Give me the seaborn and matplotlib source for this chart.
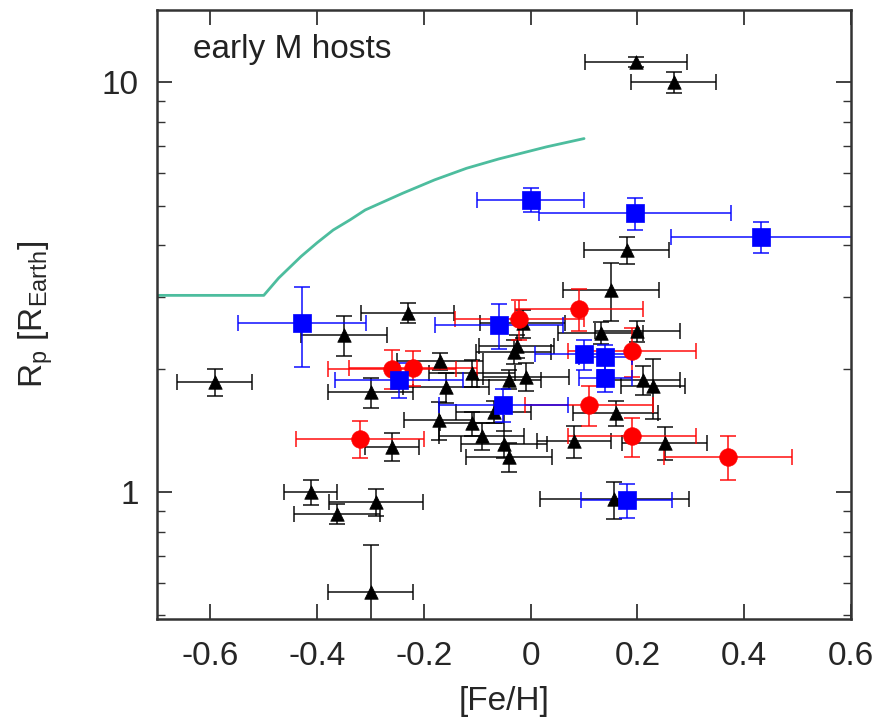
import matplotlib
matplotlib.use("Agg")
import matplotlib.pyplot as plt
import matplotlib.ticker as mticker
import seaborn as sns
import pandas as pd

# Planets orbiting early M dwarfs: metallicity vs. planet radius
tri_feh = [0.197, 0.268, 0.180, 0.150, 0.131, 0.200, 0.210, 0.229, 0.159, 0.081,
           0.251, 0.157, -0.592, -0.412, -0.363, -0.290, -0.300, -0.260, -0.230, -0.350,
           -0.300, -0.170, -0.159, -0.110, -0.172, -0.110, -0.092, -0.069, -0.050, -0.041,
           -0.026, -0.032, -0.009, -0.041, -0.015]
tri_rp = [11.2, 10.0, 3.90, 3.12, 2.45, 2.47, 1.88, 1.81, 1.56, 1.33,
          1.32, 0.96, 1.86, 1.00, 0.885, 0.945, 0.571, 1.29, 2.74, 2.42,
          1.75, 2.09, 1.80, 1.95, 1.50, 1.47, 1.37, 1.57, 1.31, 1.22,
          2.27, 2.20, 1.91, 1.88, 2.58]
tri_feh_err = [0.095, 0.08, 0.08, 0.09, 0.08, 0.08, 0.07, 0.06, 0.08, 0.07,
               0.08, 0.14, 0.07, 0.05, 0.08, 0.088, 0.08, 0.05, 0.087, 0.08,
               0.08, 0.08, 0.08, 0.08, 0.065, 0.06, 0.08, 0.07, 0.08, 0.08,
               0.07, 0.07, 0.08, 0.06, 0.08]
tri_rp_err = [0.3, 0.6, 0.3, 0.5, 0.15, 0.15, 0.15, 0.3, 0.11, 0.12,
              0.12, 0.1, 0.14, 0.07, 0.05, 0.07, 0.17, 0.1, 0.15, 0.27,
              0.15, 0.1, 0.15, 0.15, 0.16, 0.1, 0.1, 0.1, 0.1, 0.1,
              0.15, 0.15, 0.15, 0.1, 0.2]

circ_feh = [-0.320, -0.260, -0.221, -0.021, 0.090, 0.189, 0.109, 0.189, 0.369]
circ_rp = [1.35, 2.00, 2.01, 2.65, 2.80, 2.21, 1.63, 1.37, 1.22]
circ_feh_err = [0.12, 0.12, 0.12, 0.12, 0.12, 0.12, 0.12, 0.12, 0.12]
circ_rp_err = [0.14, 0.22, 0.2, 0.3, 0.33, 0.3, 0.18, 0.15, 0.15]

sq_feh = [-0.429, -0.247, -0.060, -0.051, 0.099, 0.140, 0.140, 0.180, 0.000, 0.196, 0.432]
sq_rp = [2.59, 1.88, 2.56, 1.63, 2.17, 2.14, 1.90, 0.955, 5.17, 4.80, 4.20]
sq_feh_err = [0.12, 0.12, 0.12, 0.12, 0.09, 0.05, 0.05, 0.085, 0.10, 0.18, 0.17]
sq_rp_err = [0.57, 0.18, 0.32, 0.15, 0.18, 0.15, 0.15, 0.09, 0.35, 0.43, 0.36]

# Boundary curve
curve_feh = [-0.70, -0.50, -0.472, -0.43, -0.40, -0.37, -0.338, -0.31, -0.24,
             -0.18, -0.12, -0.06, 0.03, 0.10]
curve_rp = [3.02, 3.02, 3.33, 3.76, 4.06, 4.36, 4.62, 4.88, 5.36,
            5.78, 6.17, 6.50, 6.96, 7.29]

sns.set_style("ticks")
plt.rcParams["font.family"] = ["Liberation Sans", "DejaVu Sans"]
plt.rcParams["mathtext.fontset"] = "custom"
plt.rcParams["mathtext.rm"] = "Liberation Sans"
plt.rcParams["mathtext.it"] = "Liberation Sans"

FS = 24

fig = plt.figure(figsize=(8.87, 7.27), dpi=100)
ax = fig.add_axes([0.177, 0.1486, 0.7824, 0.8374])

sns.lineplot(x=curve_feh, y=curve_rp, ax=ax, color="#4dbd9e", lw=2, sort=False)

groups = [
    (tri_feh, tri_rp, tri_feh_err, tri_rp_err, "black", "^", 95),
    (circ_feh, circ_rp, circ_feh_err, circ_rp_err, "red", "o", 160),
    (sq_feh, sq_rp, sq_feh_err, sq_rp_err, "blue", "s", 150),
]
for fx, ry, fe, re, col, mk, sz in groups:
    ax.errorbar(fx, ry, xerr=fe, yerr=re, fmt="none", ecolor=col,
                elinewidth=1.3, capsize=6, capthick=1.3, alpha=0.8, zorder=2)
    df = pd.DataFrame({"feh": fx, "rp": ry})
    sns.scatterplot(data=df, x="feh", y="rp", ax=ax, color=col, marker=mk,
                    s=sz, edgecolor=col, linewidth=0.5, zorder=3)

ax.set_yscale("log")
ax.set_xlim(-0.7, 0.6)
ax.set_ylim(0.49, 15.0)
ax.set_xticks([-0.6, -0.4, -0.2, 0, 0.2, 0.4, 0.6])
ax.set_xticklabels(["-0.6", "-0.4", "-0.2", "0", "0.2", "0.4", "0.6"])
ax.yaxis.set_major_locator(mticker.FixedLocator([1, 10]))
ax.yaxis.set_major_formatter(mticker.FixedFormatter(["1", "10"]))
ax.yaxis.set_minor_locator(mticker.LogLocator(base=10, subs=range(2, 10)))
ax.yaxis.set_minor_formatter(mticker.NullFormatter())

ax.tick_params(axis="both", which="major", direction="in", length=11, width=1.3,
               labelsize=FS, pad=13, top=True, right=True, color="#333333")
ax.tick_params(axis="x", which="major", pad=16)
ax.tick_params(axis="y", which="minor", direction="in", length=6, width=1.0,
               right=True, color="#333333")
for sp in ax.spines.values():
    sp.set_linewidth(1.8)
    sp.set_color("#333333")

ax.set_xlabel("[Fe/H]", fontsize=FS, labelpad=10)
ax.set_ylabel(r"R$_\mathrm{p}$ [R$_\mathrm{Earth}$]", fontsize=FS, labelpad=34)
ax.text(0.052, 0.936, "early M hosts", transform=ax.transAxes, fontsize=FS,
        va="center", ha="left", color="#222222")

fig.savefig("out.png", dpi=100)
